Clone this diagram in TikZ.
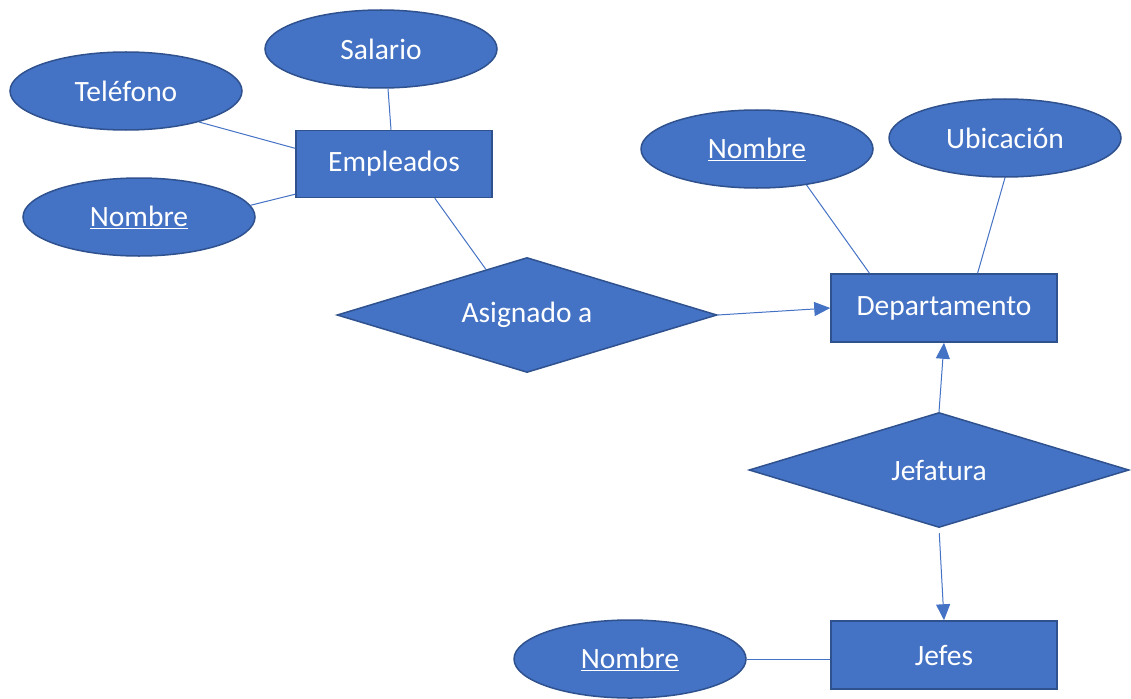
\documentclass[tikz,border=0pt]{standalone}
\usepackage{fontspec}
\setmainfont{Carlito}
\usetikzlibrary{shapes.geometric,arrows.meta,positioning}
\definecolor{erfill}{HTML}{4472C4}
\definecolor{erdraw}{HTML}{2F528F}
\tikzstyle{entity} = [rectangle, draw=erdraw, fill=erfill, line width=1.5pt, text=white, minimum width=196pt, minimum height=67pt, inner sep=0pt]
\tikzstyle{entityw} = [entity, minimum width=226pt, minimum height=68pt]
\tikzstyle{attrib} = [ellipse, draw=erdraw, fill=erfill, line width=1.5pt, text=white, minimum width=232pt, minimum height=78pt, inner sep=0pt]
\tikzstyle{relation} = [diamond, draw=erdraw, fill=erfill, line width=1.5pt, text=white, shape aspect=3.3, minimum width=380pt, minimum height=115pt, inner sep=0pt]
\tikzstyle{line} = [draw=erfill, line width=1pt]
\tikzstyle{arrow} = [line, -{Triangle[length=16pt,width=14pt]}]
\newcommand{\keyattr}[1]{\underline{#1}}

\begin{document}
\begin{tikzpicture}[x=1pt, y=-1pt, font=\fontsize{29.5}{35}\selectfont]
    \useasboundingbox (0,0) rectangle (1131,698);
    % entities
    \node [entity] (emp) at (394,164) {Empleados};
    \node [entityw] (dep) at (944,308) {Departamento};
    \node [entityw] (jfs) at (944,655) {Jefes};
    % relations
    \node [relation] (asg) at (527,315) {Asignado a};
    \node [relation] (jef) at (939,470) {Jefatura};
    % attributes
    \node [attrib] (sal) at (381,49) {Salario};
    \node [attrib] (tel) at (126,91) {Teléfono};
    \node [attrib] (nomemp) at (139,217) {\keyattr{Nombre}};
    \node [attrib] (nomdep) at (757,149) {\keyattr{Nombre}};
    \node [attrib] (ubi) at (1005,138) {Ubicación};
    \node [attrib] (nomjfs) at (630,659) {\keyattr{Nombre}};
    \path [line] (sal.-80) -- (emp.95);
    \path [line] (tel.-23) -- (emp.171);
    \path [line] (nomemp.6) -- (emp.197);
    \path [line] (emp.-40) -- (asg.132);
    \path [arrow] (asg.east) -- (dep.west);
    \path [line] (nomdep.-36) -- (dep.155);
    \path [line] (ubi.south) -- (dep.46);
    \path [arrow] (jef.north) -- (dep.south);
    \path [arrow, shorten <=5pt] (jef.south) -- (jfs.north);
    \path [line] (nomjfs.east) -- (nomjfs.east -| jfs.west);
\end{tikzpicture}
\end{document}
